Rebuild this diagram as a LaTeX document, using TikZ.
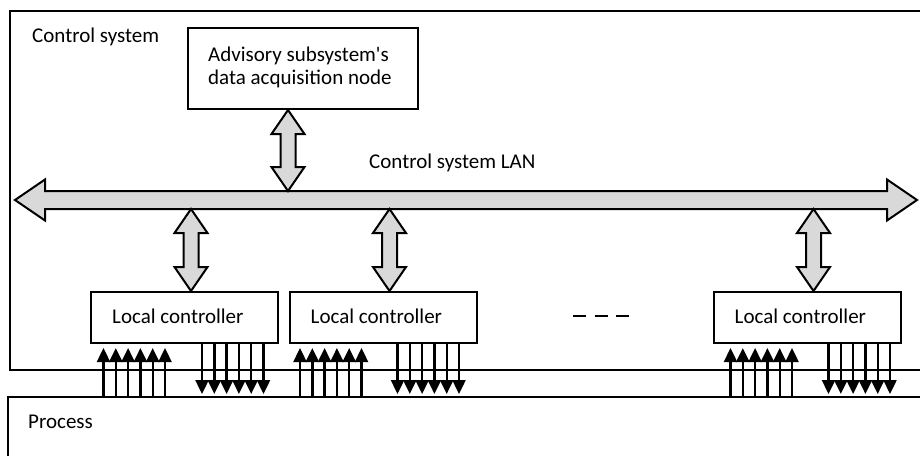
\documentclass[tikz,border=0pt]{standalone}
\usepackage{fontspec}
\newfontfamily\bodyfont{Carlito}
\usetikzlibrary{calc,arrows.meta}
\definecolor{fatgray}{HTML}{D9D9D9}
\tikzset{
  lbl/.style={font=\bodyfont\fontsize{21}{23}\selectfont, inner sep=0pt, anchor=base west},
  frame/.style={draw, line width=2pt, rectangle, inner sep=0pt},
  ctrl/.style={frame, minimum width=187, minimum height=51},
  fat/.style={draw, fill=fatgray, line width=2pt, line join=miter},
  sig/.style={line width=2.4pt, -{Triangle[width=13pt,length=14pt]}},
}
% vertical double-headed block arrow between two tip points
\newcommand\fatv[2]{%
  \draw[fat] (#1) -- ++(16.5,24) -- ++(-9,0) -- ($(#2)+(7.5,-24)$) -- ++(9,0)
    -- (#2) -- ++(-16.5,-24) -- ++(9,0) -- ($(#1)+(-7.5,24)$) -- ++(-9,0) -- cycle;}
\begin{document}
\begin{tikzpicture}[x=1pt,y=-1pt]
\clip (0,0) rectangle (920,455);
\fill[white] (0,0) rectangle (920,455);

% outer frames
\node[frame, minimum width=920, minimum height=359] (cs) at (470,190.5) {};
\node[frame, minimum width=960, minimum height=100] (proc) at (488,447) {};
\node[lbl] (cstitle) at (32,42) {Control system};
\node[lbl] (ptitle) at (28,428) {Process};

% advisory node
\node[frame, minimum width=230, minimum height=81] (adv) at (303,68.5) {};
\node[lbl] (advl1) at ([xshift=21pt,yshift=-34pt]adv.north west) {Advisory subsystem's};
\node[lbl] (advl2) at ([xshift=21pt,yshift=-57pt]adv.north west) {data acquisition node};

% LAN bus
\draw[fat] (15,200) -- (45,179.5) -- (45,191) -- (887,191) -- (887,179.5)
  -- (917,200) -- (887,220.5) -- (887,209) -- (45,209) -- (45,220.5) -- cycle;
\coordinate (lanN) at (466,191);
\coordinate (lanS) at (466,209);
\node[lbl] (lantitle) at (369,168) {Control system LAN};

% local controllers
\node[ctrl] (lc1) at (184.5,317.5) {};
\node[ctrl] (lc2) at (383,317.5) {};
\node[ctrl] (lc3) at (807,317.5) {};
\foreach \b in {lc1,lc2,lc3}{
  \node[lbl] (\b txt) at ([xshift=22pt,yshift=-5.5pt]\b.west) {Local controller};
}
\draw[line width=2pt, dash pattern=on 13pt off 8.5pt] (573,316) -- (629,316);

% links to the bus
\coordinate (a0t) at ([xshift=-15pt]adv.south);
\coordinate (a0b) at (a0t |- lanN);
\fatv{a0t}{a0b}
\foreach \b in {lc1,lc2,lc3}{
  \coordinate (\b b) at ([xshift=6.5pt]\b.north);
  \coordinate (\b t) at (\b b |- lanS);
  \fatv{\b t}{\b b}
}

% process signals in and out of each controller
\foreach \b/\u/\d in {lc1/13.5/112, lc2/11.5/109, lc3/18/116}{
  \foreach \i in {0,...,5}{
    \coordinate (p) at ([xshift={\u+12.3*\i}]\b.south west);
    \draw[sig] (p |- proc.north) -- ([yshift=-4pt]p);
    \coordinate (q) at ([xshift={\d+12.3*\i}]\b.south west);
    \draw[sig, shorten >=2pt] (q) -- (q |- proc.north);
  }
}
\end{tikzpicture}
\end{document}
